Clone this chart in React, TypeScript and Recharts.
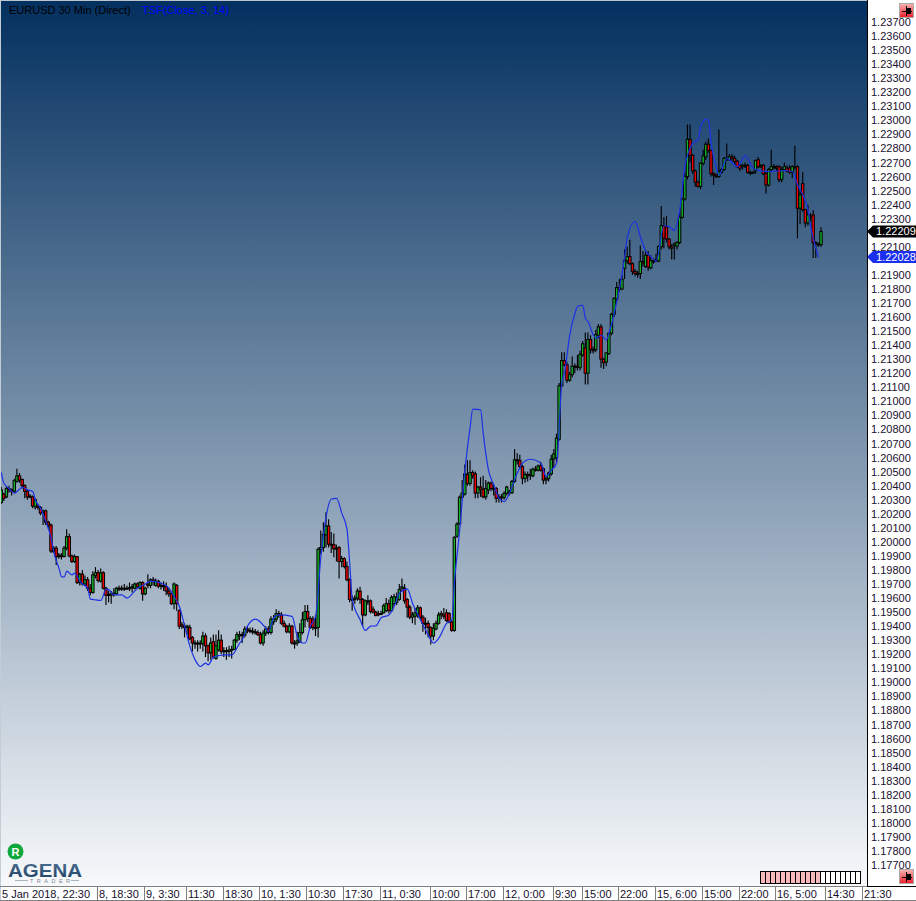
import React from "react";
import { ComposedChart, Bar, Line, XAxis, YAxis } from "recharts";

// Candle rows: [open, close, high, low], in pips above 1.2000
const sessionJan5: number[][] = [
  [28,37,39,27],[34,31,35,29],[32,38,39,31],[38,37,40,35],[37,36,38,33],[36,43.6,45,35],[43,47,52,42],[47,44,49,42],[44.5,40,45,38],[40,36,41,31],
  [36,32,37,30],[32.5,32,34,31],[32,25.5,33,24],[25,30,31,23],[25.5,24.5,27,23],[24.5,20.5,25.5,19],[21,22,23,12],[22,14,23,12],[14,12,15,10],[12,-6.5,13,-8],
  [-7,-4.5,-3,-8],[-4.5,-10.5,-3,-16.5],[-10.5,-9.5,-8,-12],[-9.5,-10.5,-8,-12.5],[-10.5,-4.5,-3,-11],[-4.5,3.7,9,-6],[3.7,-10,6,-11],[-10,-14,-9,-15],[-14,-10.5,-9,-15],[-10.5,-29,-10,-30],
  [-29,-23,-22,-31],[-23,-30,-20,-31],[-30,-27,-24,-31],[-27,-33,-25,-35],[-33,-36,-30,-38],[-36,-23.5,-21,-37],[-24,-22,-18,-26],
];
const sessionJan8: number[][] = [
  [-22,-27.5,-20,-29],[-28,-22,-19,-29],[-22,-33,-21,-34],[-33,-38,-32,-45],[-37.5,-38,-35,-43],[-38,-37,-35,-44],[-37,-36.5,-33,-39],[-37,-33,-32,-38],[-33,-33.5,-31,-35],[-33.5,-33,-31,-35],
  [-33,-33.3,-30,-35],[-33.3,-33,-31,-34],[-33.3,-32.5,-29,-35],[-32.5,-32,-30,-36],[-33,-30,-29,-34],[-30,-32,-29,-33],[-33,-29,-28,-34],[-29,-37,-28,-42],[-37,-33,-32,-38],[-30,-31,-23,-33],
  [-31,-27,-26,-33],[-27,-28,-25,-31],[-31,-28,-26,-32],[-28,-31.5,-27,-33],[-31.5,-31,-29,-34],[-31,-32,-28,-35],[-32,-35,-29,-38],[-35,-37,-33,-39],[-37,-44,-36,-45],[-44,-30,-29,-48],
  [-31,-44,-30,-49],[-49,-60,-48,-62],[-59,-60,-57,-62],[-60,-61,-58,-68],[-61,-60,-59,-66],[-61,-69,-59,-70],[-68,-72,-67,-78],[-72,-72.5,-70,-76],[-72.5,-72,-70,-78],[-72,-72.5,-70,-76],
  [-72.5,-67,-64,-78],[-67,-74,-65,-82],[-74,-79,-73,-85],[-79,-72,-68,-84],[-71,-82,-66,-83],[-83,-74,-66,-84],[-77,-70,-63,-78],[-70,-78,-66,-80],[-78,-77.5,-75,-82],[-77.5,-78,-75,-84],
  [-78,-77,-74,-82],[-77,-76.5,-74,-83],[-76.5,-70,-69,-77],[-70,-66,-64,-72],
];
const sessionJan10: number[][] = [
  [-67,-66,-63.5,-70],[-66,-66.5,-64,-72],[-66.5,-62,-60,-68],[-62,-63,-60,-65],[-63,-63.5,-61,-65],[-63.5,-64,-61,-66],[-64,-64.5,-62,-66],[-64.5,-66,-63,-67],[-66,-72,-64,-73],[-72,-65,-63,-74],
  [-65,-62,-60,-67],[-62,-64.5,-60,-66],[-64.5,-55,-53,-66],[-57,-55,-52,-59],[-55,-51,-48,-57],[-51,-52,-49,-54],[-52,-58,-50,-59],[-58,-60,-56,-61],[-60,-64,-59,-65],[-64,-60,-58,-65],
  [-60,-72,-59,-73],[-72,-72,-70,-76],[-72,-70.5,-64,-74],[-71,-64.5,-58,-72],[-64.5,-55.5,-50,-66],[-55.5,-49.6,-45,-61],[-49.6,-54.5,-45,-57],[-54.5,-61,-53,-62],[-55,-61,-53,-63],[-61,-61,-52,-67],
  [-61,-5.3,-4,-68],[-5.3,-4,8,-9],[-4,5.4,14,-7],[5,11.3,21,-4],[11.3,-1.7,16,-4],[-1.7,-2,7,-8],[-2,-5,6,-11],[-4.5,-4.5,-2,-14],[-4,-14,-3,-26],[-14,-12,-10,-18],
  [-12,-17.6,-11,-19],[-17.6,-27,-14,-28],[-27,-41,-26,-43],[-41,-41,-38,-49],[-41,-40,-38,-44],[-40,-35,-33,-42],[-35,-41,-32,-44],[-41,-52,-40,-60],[-52,-42,-41,-53],[-42,-42,-38,-45],
];
const sessionJan11: number[][] = [
  [-42,-49.6,-41,-51],[-48,-50,-46,-51],[-50,-52.5,-49,-53],[-51,-52,-49,-53],[-51.5,-51,-49,-52],[-50.5,-45.5,-44,-51],[-49,-44,-40,-50],[-44,-49,-41,-51],[-49,-39.5,-38,-50],[-44,-39,-37,-46],
  [-43,-39.5,-36,-45],[-41,-34,-30,-42],[-33,-32,-26,-35],[-33,-42,-30,-44],[-41,-46.5,-40,-54],[-46.5,-53.6,-45,-55],[-53.6,-52,-50,-58],[-53,-50.5,-47,-59],[-52,-47,-45,-54],[-47,-53.6,-46,-55],
  [-53.6,-58,-52,-64],[-58,-58,-54,-66],[-58,-61,-56,-68],[-61,-67,-60,-73],[-67,-61.5,-58,-70],[-62,-58,-56,-63],[-58,-52,-50,-59],[-52,-51,-49,-55],[-52,-53,-47,-55],[-50.5,-56,-48,-57],
  [-51,-57,-50,-58],[-57,-63,-56,-64],[-63,3.2,4,-64],[4,12.6,14,3],[13,31.8,33,12],[31.8,34.7,44,30],[34,48.4,55,33],[48,41.5,58,40],[41.5,49.3,58,40],[49.3,47,51,45],
  [48.4,34.7,50,31],[34.7,39,40,31],[39,37.5,46,32],[37.5,32,47,31],[32,38,44,30],[37,41.8,43,34],[41.8,38,43,36],[38,38,41,33],[38,31,39,28],[31,32,34,28],
];
const sessionJan12: number[][] = [
  [32,31.5,34,28],[31.5,34.5,36,30],[34.5,39,40,33],[35,35.5,37,33],[35,43,44,34],[43,58.4,66,42],[58.4,58,63,55],[58,53.6,62,52],[53.6,45.3,55,41],[45,48,50,42],
  [48,47,50,43],[47,48,52,44],[47,51.7,53,46],[51.7,51,54,50],[51,54,55,50],[54,51,57,50],[52,44,53,41],[44,45,47,41],[45,49,50,43],[48.4,58.8,62,47],
  [59,62.6,66,53],[60,73.8,77,56],[73,111,113,72],[111,129,135,110],[129,126,135,125],[126,115,128,113],[115,119,121,114],[119,125,132,117],[125,125,127,120],[125,124,133,122],
  [124,133.5,136,122],[133,141,143,132],[138,120,149,112],[120,144,149,112],[144,137,147,134],[137,136,139,134],[137,147.5,151,135],[147,153,155,145],[153,130,155,124],[130,127.5,131,123],
  [128,134.5,135,125],[134,148.5,149,133],[148.5,162,163,147],[162,173.4,174,160],[173,181,185,171],[181,180,187,178],[180,187,190,179],
];
const sessionJan15: number[][] = [
  [194.7,200.2,208,187],[200,203,210,198],[203,198,215,197],[198,192.5,199,190],[192.5,191,194,189],[191,190.8,193,188],[191,199.5,211,187],[199.5,198.5,207,196],[196,204,208,195],[204,195.5,207,193],
  [195,200,204,194],[200,200,202,198],[200,201,205,199],[200,210.2,211,199],[210,225,239,208],[225,216,231,209],[224,215.5,232,213],[215.5,210,216,208],[210,209,212,201],[211,212,213,201],
  [210.5,213,214,208],[213,231,234,212],[231,244,245,230],[244,260,263,243],[260,286.5,297,258],[286.5,275,297,270],[275,264,276,262],[264,256,265,253],[256,253,257,252],[253,269.5,270,251],
  [269.5,274.7,279,268],[274,283,285,272],[283,278.5,287,277],[278.5,262,279,260],[262,261,263,254],[261,260,262,259],[260,263.5,293.5,259],[263,265,266,262],[265,273,274,264],[272,273,283.5,271],
  [272,274,276,271],[274,273,276,271],[273,270.7,275,269],[271,267,272,266],
];
const sessionJan16: number[][] = [
  [268,266,269,264],[267,268,269,265],[268,268,270,266],[268,263,269,262],[263,263,264,261],[263,263,264,262],[264,271.5,272,262],[272,267,274,266],[267,268,269,266],[268,262,269,261],
  [262,254,263,248],[254,265,266,253],[265,267,279,264],[267,267,269,265],[267,266,268,264],[267,257.7,268,256],[258,265,267,256],[265,267,270,264],[266,264,268,263],[266,263,268,262],
  [263,267,268,259],[267,267,282,265],[267,237.5,268,216],[237.5,247,250,226],[255,236.5,263,235],[236.5,227,237,224],[227,232.7,240,225],[232,232,234,228],[232.7,213,236,202],[213,212,214,202],
  [212,211.5,213,210],[211.5,220.9,224,210],
];

// TSF(Close, 3, 14): bar number and value (pips above 1.2000), as read at its turning points
const tsfBars = [0,1,3,5,6,8,10,12,13,15,17,19,20,22,23,24,25,27,28,30,31,33,34,36,38,40,41,43,46,48,50,52,55,57,61,64,66,68,70,72,74,76,78,79,81,83,85,88,91,92,94,97,101,102,104,106,111,113,115,116,118,120,122,124,126,128,130,132,133,134,137,139,141,143,145,148,150,152,155,157,160,162,165,167,170,172,173,175,177,179,180,183,184,186,188,190,192,194,197,199,202,206,208,210,212,214,215,217,219,220,222,223,224,226,227,229,231,232,234,236,238,239,242,244,246,248,250,253,255,257,259,261,264,266,267,269,270,271,273,274,277,281,284,287,290,294,299,302,304,306,308,309,310,312];
const tsfPips = [49.5,41.7,38,34.6,35.8,38.8,37,35.8,29.8,24,14.4,2.6,-7,-18.7,-24.7,-25,-20.9,-23.5,-22.3,-28,-30,-33,-40.8,-41.3,-41.7,-33.7,-34,-37.7,-37.7,-40,-37,-33,-30,-28,-29.4,-33,-39,-46,-60,-74.4,-84,-88.7,-86.3,-87.5,-82,-81,-80.4,-80.4,-72,-69.7,-60,-55,-61.5,-64,-54,-52,-53,-67.4,-72,-72,-60,-53,-10.5,18,30.5,31,20.3,8.5,-15,-41,-55.5,-63,-60,-59.8,-54,-52,-46,-36.6,-33.7,-43.7,-55.5,-62.7,-72,-68.6,-58,-55.5,-29,8.6,51,82,94.4,94,77,51,40.6,31,28.7,34.7,49,56,58.8,56,46.5,51,56,113,120,147,162.7,167.5,168.4,159,156.8,147.3,145,147,143.8,148.5,162.7,180.5,203,217,228,217,207,203,200,225,224.4,221.6,236,267,283.7,286,295.6,300.8,300,283.7,266,261,273,267,274.7,266,264,263.6,264.3,263.6,254,247,236,224.4,216,202.6];

const lastClose = 1.22209;
const lastTsf = 1.22028;

const timeTickBars = [0,37,55,71,85,99,117,131,145,164,178,192,211,222,236,250,268,282,296,315,329];
const timeTickLabels = ["5 Jan 2018, 22:30","8, 18:30","9, 3:30","11:30","18:30","10, 1:30","10:30","17:30","11, 0:30","10:00","17:00","12, 0:00","9:30","15:00","22:00","15, 6:00","15:00","22:00","16, 5:00","14:30","21:30"];
const hiddenPriceTicks = [1.222, 1.22];
const priceTicks = [
  ...Array.from({ length: 61 }, (_, k) => Number((1.237 - k * 0.001).toFixed(3))).filter((v) => !hiddenPriceTicks.includes(v)),
  lastClose,
  lastTsf,
];
const cellsFilled = [true,true,true,true,true,true,true,true,true,true,true,true,false,false,false,false,false,false,false,false];

const SLOT_COUNT = 331;
const toPrice = (p: number) => 1.2 + p / 10000;
const candles = [...sessionJan5, ...sessionJan8, ...sessionJan10, ...sessionJan11, ...sessionJan12, ...sessionJan15, ...sessionJan16];
const table = Array.from({ length: SLOT_COUNT }, (_, i) => {
  const c = candles[i];
  const t = tsfBars.indexOf(i);
  return {
    bar: i,
    open: c ? toPrice(c[0]) : null,
    close: c ? toPrice(c[1]) : null,
    high: c ? toPrice(c[2]) : null,
    low: c ? toPrice(c[3]) : null,
    tsf: t >= 0 ? toPrice(tsfPips[t]) : null,
  };
});

const FONT = "'Liberation Sans', Arial, sans-serif";

const Candle = (props: any) => {
  const { x, y, width, height, payload } = props;
  if (payload == null || payload.high == null || !Number.isFinite(y) || !Number.isFinite(height)) return null;
  const top = Math.min(y, y + height);
  const h = Math.abs(height);
  const perUnit = h / (payload.high - payload.low);
  const c = x + width / 2;
  const yOf = (v: number) => top + (payload.high - v) * perUnit;
  const y1 = yOf(Math.max(payload.open, payload.close));
  const y2 = Math.max(y1 + 1, yOf(Math.min(payload.open, payload.close)));
  const up = payload.close >= payload.open;
  return (
    <g>
      <line x1={c} x2={c} y1={top} y2={top + h} stroke="#000" strokeWidth={1.15} />
      <rect x={c - 1.2} y={y1} width={2.4} height={y2 - y1} fill={up ? "#14b52a" : "#f80000"} stroke="#000" strokeWidth={1} />
    </g>
  );
};

const PriceTick = (props: any) => {
  const { x, y, payload } = props;
  const v = payload.value;
  if (v === lastClose || v === lastTsf) {
    const fill = v === lastClose ? "#000" : "#1a2ff0";
    return (
      <g>
        <path d={`M${x},${y} L${x + 6},${y - 6} L916,${y - 6} L916,${y + 6} L${x + 6},${y + 6} Z`} fill={fill} />
        <text x={x + 9} y={y + 4} fontFamily={FONT} fontSize={11} fill="#fff">{v.toFixed(5)}</text>
      </g>
    );
  }
  return <text x={x + 4} y={y + 4} fontFamily={FONT} fontSize={11} fill="#1a1030">{v.toFixed(5)}</text>;
};

const TimeTick = (props: any) => {
  const { x, payload } = props;
  const idx = timeTickBars.indexOf(payload.value);
  const left = Math.round(x - 1.3);
  return (
    <g>
      {idx > 0 && <line x1={left + 0.5} x2={left + 0.5} y1={887} y2={900} stroke="#808080" />}
      <text x={left + 2} y={898} fontFamily={FONT} fontSize={11} fill="#14102c">{timeTickLabels[idx]}</text>
    </g>
  );
};

const CornerButton = ({ y }: { y: number }) => (
  <g>
    <rect x={899.5} y={y + 0.5} width={14} height={14} fill="url(#btnRed)" stroke="#a9a9a9" />
    <line x1={902} x2={912} y1={y + 8.5} y2={y + 8.5} stroke="#000" />
    <rect x={907} y={y + 5} width={4} height={6} fill="#000" />
    <line x1={906.5} x2={906.5} y1={y + 3} y2={y + 13} stroke="#000" />
  </g>
);

const Overlay = () => (
  <svg width={916} height={901} style={{ position: "absolute", left: 0, top: 0, pointerEvents: "none" }}>
    <defs>
      <linearGradient id="btnRed" x1="0" y1="0" x2="0" y2="1">
        <stop offset="0%" stopColor="#fbb6b6" />
        <stop offset="100%" stopColor="#ee1c25" />
      </linearGradient>
      <linearGradient id="logoBlue" x1="0" y1="0" x2="0" y2="1">
        <stop offset="0%" stopColor="#4f7294" />
        <stop offset="100%" stopColor="#1d3f62" />
      </linearGradient>
    </defs>
    <line x1={0} x2={867} y1={0.5} y2={0.5} stroke="#b9c4cf" />
    <line x1={0.5} x2={0.5} y1={0} y2={900} stroke="#c3cdd6" />
    <line x1={867.5} x2={867.5} y1={0} y2={887} stroke="#000" />
    <line x1={0} x2={867} y1={886.5} y2={886.5} stroke="#808080" />
    <line x1={867} x2={916} y1={886.5} y2={886.5} stroke="#000" />
    <line x1={0} x2={916} y1={900.5} y2={900.5} stroke="#808080" />
    <text x={9} y={14} fontFamily={FONT} fontSize={11} fill="#000">EURUSD 30 Min (Direct)</text>
    <text x={142} y={14} fontFamily={FONT} fontSize={11} fill="#0000ff">TSF(Close, 3, 14)</text>
    <CornerButton y={3} />
    <CornerButton y={869} />
    {cellsFilled.map((on, k) => (
      <rect key={k} x={760.5 + k * 5} y={871.5} width={5} height={12} fill={on ? "#f7b9bb" : "#fff"} stroke="#000" />
    ))}
    <circle cx={15.5} cy={851.5} r={8} fill="#10a83c" />
    <text x={15.5} y={855.5} textAnchor="middle" fontFamily={FONT} fontWeight="bold" fontSize={11} fill="#fff">R</text>
    <text x={8} y={876.5} fontFamily={FONT} fontWeight="bold" fontSize={18} fill="url(#logoBlue)" textLength={74} lengthAdjust="spacingAndGlyphs">AGENA</text>
    <line x1={15} x2={28} y1={880.5} y2={880.5} stroke="#a9b4bf" />
    <line x1={71} x2={79} y1={880.5} y2={880.5} stroke="#a9b4bf" />
    <text x={30} y={883} fontFamily={FONT} fontSize={5.5} fill="#7c8894" textLength={40}>TRADER</text>
  </svg>
);

export default function App() {
  return (
    <div style={{ position: "absolute", left: 0, top: 0, width: 916, height: 901, background: "#fff", overflow: "hidden" }}>
      <div style={{ position: "absolute", left: 0, top: 0, width: 867, height: 886, background: "linear-gradient(to bottom, #03305f 0%, #f7f9fb 100%)" }} />
      <div style={{ position: "absolute", left: 0, top: 0 }}>
        <ComposedChart width={916} height={901} data={table} margin={{ top: 0, right: 0, bottom: 0, left: 0 }} barCategoryGap={0}>
          <XAxis dataKey="bar" type="category" height={17} ticks={timeTickBars} interval={0} tick={<TimeTick />} axisLine={false} tickLine={false} />
          <YAxis orientation="right" width={49} domain={[1.175648, 1.238566]} ticks={priceTicks} interval={0} tick={<PriceTick />} axisLine={false} tickLine={false} tickSize={0} tickMargin={0} allowDataOverflow />
          <Line type="monotone" dataKey="tsf" stroke="#1c31e6" strokeWidth={1.2} dot={false} activeDot={false} connectNulls isAnimationActive={false} />
          <Bar dataKey={(d: any) => (d.high == null ? null : [d.low, d.high])} barSize={3} shape={<Candle />} isAnimationActive={false} />
        </ComposedChart>
      </div>
      <Overlay />
    </div>
  );
}
